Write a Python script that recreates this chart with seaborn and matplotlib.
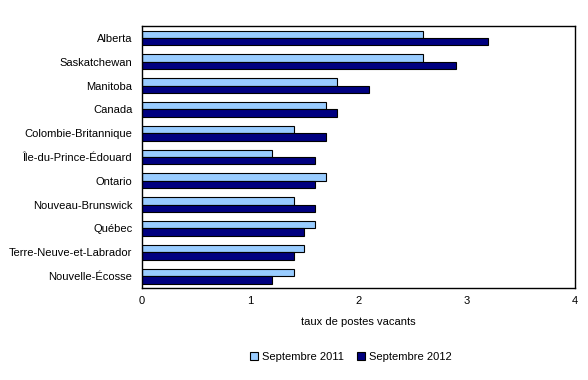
import matplotlib
matplotlib.use('agg')
import matplotlib.pyplot as plt
import pandas as pd
import seaborn as sns

# Taux de postes vacants par province
provinces = ["Alberta", "Saskatchewan", "Manitoba", "Canada", "Colombie-Britannique",
             "Île-du-Prince-Édouard", "Ontario", "Nouveau-Brunswick", "Québec",
             "Terre-Neuve-et-Labrador", "Nouvelle-Écosse"]
sept_2011 = [2.6, 2.6, 1.8, 1.7, 1.4, 1.2, 1.7, 1.4, 1.6, 1.5, 1.4]
sept_2012 = [3.2, 2.9, 2.1, 1.8, 1.7, 1.6, 1.6, 1.6, 1.5, 1.4, 1.2]
series = ["Septembre 2011", "Septembre 2012"]
colours = ["#99CCFF", "#000080"]

df = pd.concat([
    pd.DataFrame({"province": provinces, "taux": sept_2011, "periode": series[0]}),
    pd.DataFrame({"province": provinces, "taux": sept_2012, "periode": series[1]}),
])

sns.set_style("white")
plt.rcParams['font.family'] = ['Liberation Sans', 'DejaVu Sans']
plt.rcParams['font.size'] = 8
plt.rcParams['text.color'] = 'black'
plt.rcParams['axes.labelcolor'] = 'black'
plt.rcParams['xtick.color'] = 'black'
plt.rcParams['ytick.color'] = 'black'

fig = plt.figure(figsize=(5.88, 3.80), dpi=100)
ax = fig.add_axes([0.2415, 0.242, 0.7365, 0.6896])

sns.barplot(data=df, x="taux", y="province", hue="periode", orient="h",
            palette=colours, saturation=1, width=0.62, edgecolor="black",
            linewidth=0.8, ax=ax, legend=True)

ax.set_xlim(0, 4)
ax.set_xticks([0, 1, 2, 3, 4])
ax.set_xlabel("taux de postes vacants", fontsize=8, labelpad=8)
ax.set_ylabel("")
ax.tick_params(axis='x', direction='in', length=3, width=0.8, colors='black', labelsize=8, pad=6)
ax.tick_params(axis='y', length=0, labelsize=8, pad=7)
for spine in ax.spines.values():
    spine.set_color('black')
    spine.set_linewidth(1)

handles, labels = ax.get_legend_handles_labels()
ax.get_legend().remove()
fig.legend(handles, labels, loc='center', bbox_to_anchor=(0.597, 0.06), ncol=2,
           frameon=False, fontsize=8, handlelength=0.7, handleheight=0.7,
           handletextpad=0.4, columnspacing=1.2)

plt.savefig("out.png", dpi=100)
